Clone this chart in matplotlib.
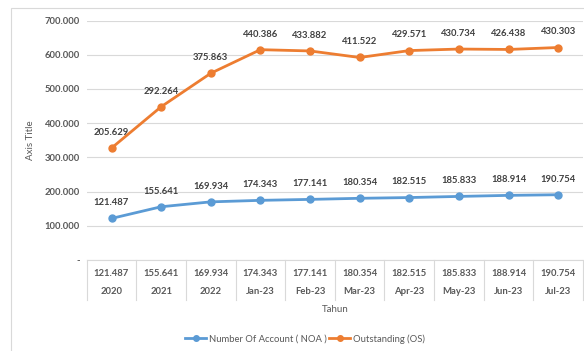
import numpy as np
import matplotlib
matplotlib.use("Agg")
import matplotlib.pyplot as plt
from matplotlib.patches import Rectangle
from matplotlib.lines import Line2D

categories = ["2020", "2021", "2022", "Jan-23", "Feb-23", "Mar-23",
              "Apr-23", "May-23", "Jun-23", "Jul-23"]
noa = [121.487, 155.641, 169.934, 174.343, 177.141, 180.354,
       182.515, 185.833, 188.914, 190.754]
outstanding = [205.629, 292.264, 375.863, 440.386, 433.882, 411.522,
               429.571, 430.734, 426.438, 430.303]
y_ticks = [0, 100, 200, 300, 400, 500, 600, 700]

BLUE = "#5B9BD5"
ORANGE = "#ED7D31"
TXT = "#595959"
LBL = "#404040"
GRID = "#D9D9D9"

plt.rcParams["font.family"] = ["Lato", "DejaVu Sans"]

W, H = 584, 351
fig = plt.figure(figsize=(W / 100, H / 100), dpi=100)

# chart frame
fig.patches.append(Rectangle((11 / W, -0.1), 1.2, 1 - 8 / H + 0.1,
                             transform=fig.transFigure, fill=False,
                             edgecolor=GRID, linewidth=0.8))

left, right, top, bottom = 86.7, 583, 20.5, 260
ax = fig.add_axes([left / W, 1 - bottom / H, (right - left) / W, (bottom - top) / H])

x = np.arange(len(categories))
stacked = np.array(noa) + np.array(outstanding)

ax.plot(x, noa, color=BLUE, lw=2, marker="o", ms=5, zorder=3)
ax.plot(x, stacked, color=ORANGE, lw=2, marker="o", ms=5, zorder=3)

for xi, yv, v in zip(x, noa, noa):
    ax.annotate(f"{v:.3f}", (xi, yv), xytext=(0, 8), textcoords="offset points",
                ha="center", va="bottom", fontsize=6.8, color=LBL, fontweight="bold")
for xi, yv, v in zip(x, stacked, outstanding):
    ax.annotate(f"{v:.3f}", (xi, yv), xytext=(0, 8), textcoords="offset points",
                ha="center", va="bottom", fontsize=6.8, color=LBL, fontweight="bold")

ax.set_xlim(-0.5, len(categories) - 0.5)
ax.set_ylim(0, 700)
ax.set_yticks(y_ticks)
ax.set_yticklabels(["-" if t == 0 else f"{t}.000" for t in y_ticks],
                   fontsize=6.8, color=TXT, fontweight="bold")
ax.tick_params(axis="y", length=0, pad=5)
ax.set_xticks([])
ax.grid(axis="y", color=GRID, lw=0.8)
ax.set_axisbelow(True)
for s in ["top", "right", "left"]:
    ax.spines[s].set_visible(False)
ax.spines["bottom"].set_color(GRID)
ax.set_ylabel("Axis Title", fontsize=7, color=TXT, labelpad=7)

# data table below the axis
tab_bottom = 300
for i in range(len(categories) + 1):
    xp = left + i * (right - left) / len(categories)
    fig.add_artist(Line2D([xp / W, xp / W], [1 - bottom / H, 1 - tab_bottom / H],
                          transform=fig.transFigure, color=GRID, lw=0.8))
for i, (c, v) in enumerate(zip(categories, noa)):
    xc = (left + (i + 0.5) * (right - left) / len(categories)) / W
    fig.text(xc, 1 - 274 / H, f"{v:.3f}", ha="center", va="center",
             fontsize=6.8, color=TXT, fontweight="bold")
    fig.text(xc, 1 - 292 / H, c, ha="center", va="center",
             fontsize=6.8, color=TXT, fontweight="bold")

fig.text(335 / W, 1 - 310 / H, "Tahun", ha="center", va="center",
         fontsize=7, color=TXT)

handles = [Line2D([], [], color=BLUE, lw=2, marker="o", ms=4),
           Line2D([], [], color=ORANGE, lw=2, marker="o", ms=4)]
fig.legend(handles, ["Number Of Account ( NOA )", "Outstanding (OS)"],
           loc="center", bbox_to_anchor=(305 / W, 1 - 339 / H), ncol=2,
           frameon=False, fontsize=6.8, labelcolor=TXT, handlelength=2.2,
           handletextpad=0.3, columnspacing=0.3)

fig.savefig("out.png", dpi=100)
